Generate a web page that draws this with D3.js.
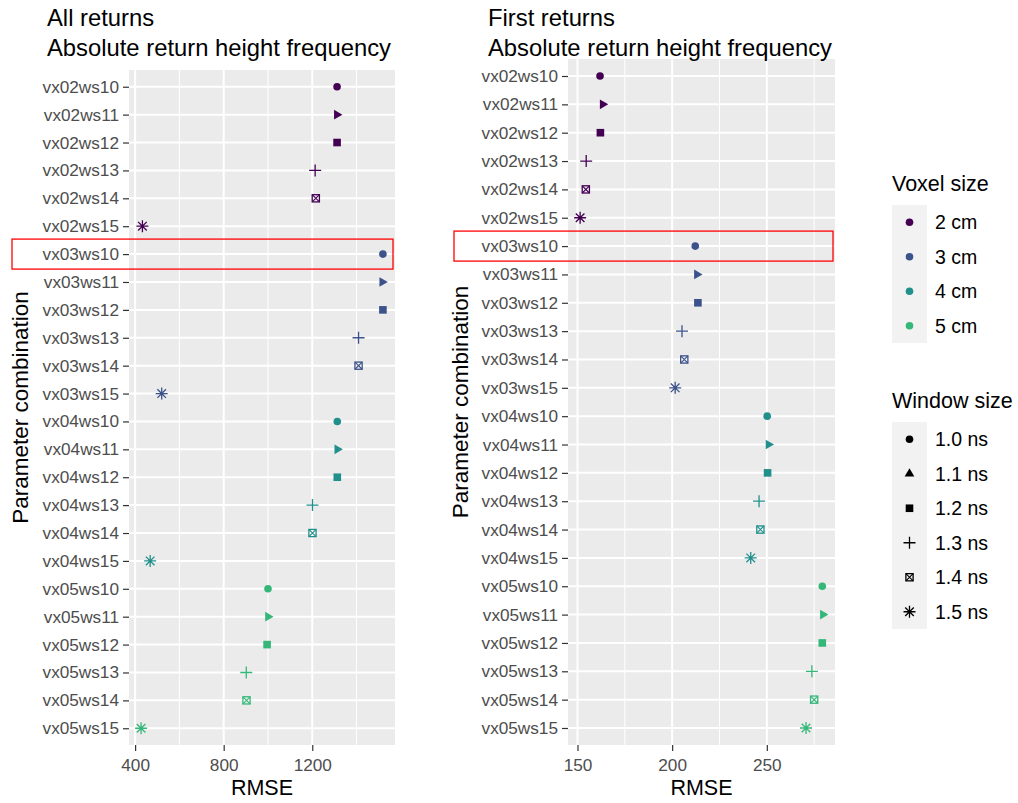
<!DOCTYPE html>
<html>
<head>
<meta charset="utf-8">
<script src="https://cdn.jsdelivr.net/npm/d3@7"></script>
<style>
  body { margin: 0; background: #fff; }
  text { font-family: "Liberation Sans", Arial, sans-serif; }
</style>
</head>
<body>
<svg id="chart" width="1018" height="803"></svg>
<script>
// parameter combinations (y categories), top to bottom
var params = ["vx02ws10","vx02ws11","vx02ws12","vx02ws13","vx02ws14","vx02ws15",
              "vx03ws10","vx03ws11","vx03ws12","vx03ws13","vx03ws14","vx03ws15",
              "vx04ws10","vx04ws11","vx04ws12","vx04ws13","vx04ws14","vx04ws15",
              "vx05ws10","vx05ws11","vx05ws12","vx05ws13","vx05ws14","vx05ws15"];
var voxelSizes = ["2 cm","3 cm","4 cm","5 cm"];
var windowSizes = ["1.0 ns","1.1 ns","1.2 ns","1.3 ns","1.4 ns","1.5 ns"];
var voxelColors = ["#440154","#3B528B","#21908C","#35B779"];
var highlighted = "vx03ws10";

// RMSE
var rmseAll = [1312,1311,1312,1213,1216,433,
               1519,1516,1519,1409,1409,520,
               1313,1313,1313,1201,1201,468,
               1000,1000,996,902,903,427];
var rmseFirst = [161.9,163.3,162.1,154.6,154.4,151.4,
                 212.2,213.1,213.6,205.2,206.4,201.6,
                 250.2,250.9,250.4,245.9,246.6,241.5,
                 279.3,279.6,279.3,273.8,275.0,270.7];
var ticksAll = [400,800,1200];
var ticksFirst = [150,200,250];

var svg = d3.select("#chart");

var color = d3.scaleOrdinal().domain(voxelSizes).range(voxelColors);

function rowData(values){
    return params.map(function(p, i){
        return { key: p, value: values[i],
                 voxel: voxelSizes[+p.slice(2,4) - 2],
                 win: windowSizes[+p.slice(6,8) - 10] };
    });
}

// draws one ggplot-ish shape, centred at 0,0
function drawShape(g, win, col, pointUp){
    var i = windowSizes.indexOf(win);
    if (i == 0) {
        g.append("circle").attr("r", 3.8).attr("fill", col);
    } else if (i == 1) {
        var r = 5.6, xc = r * Math.sqrt(3) / 2;
        var pts = [[r,0],[-r/2,-xc],[-r/2,xc]];
        g.append("path").attr("d", "M" + pts.join("L") + "Z").attr("fill", col)
            .attr("transform", pointUp ? "rotate(-90)" : null);
    } else if (i == 2) {
        g.append("rect").attr("x", -3.8).attr("y", -3.8).attr("width", 7.6).attr("height", 7.6).attr("fill", col);
    } else if (i == 3) {
        g.append("path").attr("d", "M-6,0H6M0,-6V6").attr("stroke", col).attr("stroke-width", 1.3);
    } else if (i == 4) {
        g.append("rect").attr("x", -3.6).attr("y", -3.6).attr("width", 7.2).attr("height", 7.2)
            .attr("fill", "none").attr("stroke", col).attr("stroke-width", 1.3);
        g.append("path").attr("d", "M-3.6,-3.6L3.6,3.6M-3.6,3.6L3.6,-3.6").attr("stroke", col).attr("stroke-width", 1.1);
    } else {
        g.append("path").attr("d", "M-6,0H6M0,-6V6M-4.3,-4.3L4.3,4.3M-4.3,4.3L4.3,-4.3")
            .attr("stroke", col).attr("stroke-width", 1.3);
    }
}

function drawPanel(opt){
    var data = rowData(opt.values);
    var ext = d3.extent(opt.values), pad = (ext[1] - ext[0]) * 0.05;

    var x = d3.scaleLinear().domain([ext[0] - pad, ext[1] + pad]).range([opt.x0, opt.x1]);
    var y = d3.scalePoint().domain(params).range([opt.y0, opt.y1]).padding(0.6);

    var g = svg.append("g");

    g.append("rect").attr("x", opt.x0).attr("y", opt.y0)
        .attr("width", opt.x1 - opt.x0).attr("height", opt.y1 - opt.y0)
        .attr("fill", "#EBEBEB");

    // minor grid halfway between majors
    var minor = opt.ticks.map(function(t, i){ return t + (opt.ticks[1] - opt.ticks[0]) / 2; })
        .concat([opt.ticks[0] - (opt.ticks[1] - opt.ticks[0]) / 2])
        .filter(function(t){ return x(t) > opt.x0 && x(t) < opt.x1; });
    g.selectAll(".minor").data(minor).enter().append("line")
        .attr("x1", x).attr("x2", x).attr("y1", opt.y0).attr("y2", opt.y1)
        .attr("stroke", "#fff").attr("stroke-width", 1);
    g.selectAll(".majorx").data(opt.ticks).enter().append("line")
        .attr("x1", x).attr("x2", x).attr("y1", opt.y0).attr("y2", opt.y1)
        .attr("stroke", "#fff").attr("stroke-width", 2);
    g.selectAll(".majory").data(params).enter().append("line")
        .attr("x1", opt.x0).attr("x2", opt.x1)
        .attr("y1", function(d){ return y(d); }).attr("y2", function(d){ return y(d); })
        .attr("stroke", "#fff").attr("stroke-width", 2);

    // points
    g.selectAll(".pt").data(data).enter().append("g")
        .attr("transform", function(d){ return "translate(" + x(d.value) + "," + y(d.key) + ")"; })
        .each(function(d){ drawShape(d3.select(this), d.win, color(d.voxel), false); });

    // axes
    var ya = g.append("g").attr("transform", "translate(" + opt.x0 + ",0)")
        .call(d3.axisLeft(y).tickSize(6).tickPadding(4));
    var xa = g.append("g").attr("transform", "translate(0," + opt.y1 + ")")
        .call(d3.axisBottom(x).tickValues(opt.ticks).tickFormat(d3.format("d")).tickSize(6).tickPadding(8));
    [ya, xa].forEach(function(a){
        a.select(".domain").remove();
        a.selectAll(".tick line").attr("stroke", "#333").attr("stroke-width", 1.2);
        a.selectAll(".tick text").attr("fill", "#4D4D4D").style("font-size", "17.2px")
            .style("font-family", "'Liberation Sans', Arial, sans-serif");
    });

    // highlight box
    g.append("rect").attr("x", opt.boxX).attr("y", y(highlighted) - 15)
        .attr("width", opt.x1 - 2 - opt.boxX).attr("height", 30)
        .attr("fill", "none").attr("stroke", "#FF0000").attr("stroke-width", 1.3);

    // titles
    var t = g.append("text").attr("x", opt.titleX).attr("y", 26).style("font-size", "23.8px").attr("fill", "#000");
    t.append("tspan").attr("x", opt.titleX).text(opt.title);
    t.append("tspan").attr("x", opt.titleX).attr("dy", 30).text("Absolute return height frequency");

    g.append("text").attr("x", (opt.x0 + opt.x1) / 2).attr("y", 795)
        .attr("text-anchor", "middle").style("font-size", "21.5px").text("RMSE");
    g.append("text")
        .attr("transform", "translate(" + opt.ytitleX + "," + (opt.y0 + opt.y1) / 2 + ") rotate(-90)")
        .attr("text-anchor", "middle").style("font-size", "22.5px").text("Parameter combination");
}

drawPanel({ values: rmseAll, ticks: ticksAll, x0: 129, x1: 395, y0: 70, y1: 745,
            title: "All returns", titleX: 47, ytitleX: 28, boxX: 12 });
drawPanel({ values: rmseFirst, ticks: ticksFirst, x0: 568, x1: 835, y0: 59, y1: 745,
            title: "First returns", titleX: 488, ytitleX: 468, boxX: 454 });

// legends
function drawLegend(title, items, top, colorFn){
    var lg = svg.append("g").attr("transform", "translate(892," + top + ")");
    lg.append("text").attr("x", 0).attr("y", 0).style("font-size", "21.5px").text(title);
    var step = 34.5;
    lg.append("rect").attr("x", 0).attr("y", 14).attr("width", 35)
        .attr("height", step * items.length).attr("fill", "#F2F2F2");
    var it = lg.selectAll(".item").data(items).enter().append("g")
        .attr("transform", function(d, i){ return "translate(0," + (14 + step / 2 + i * step) + ")"; });
    it.each(function(d){ colorFn(d3.select(this).append("g").attr("transform", "translate(17.5,0)"), d); });
    it.append("text").attr("x", 43).attr("dy", "0.35em").style("font-size", "19.5px").text(function(d){ return d; });
}

drawLegend("Voxel size", voxelSizes, 191, function(g, d){
    g.append("circle").attr("r", 3.8).attr("fill", color(d));
});
drawLegend("Window size", windowSizes, 408, function(g, d){
    drawShape(g, d, "#000", true);
});
</script>
</body>
</html>
